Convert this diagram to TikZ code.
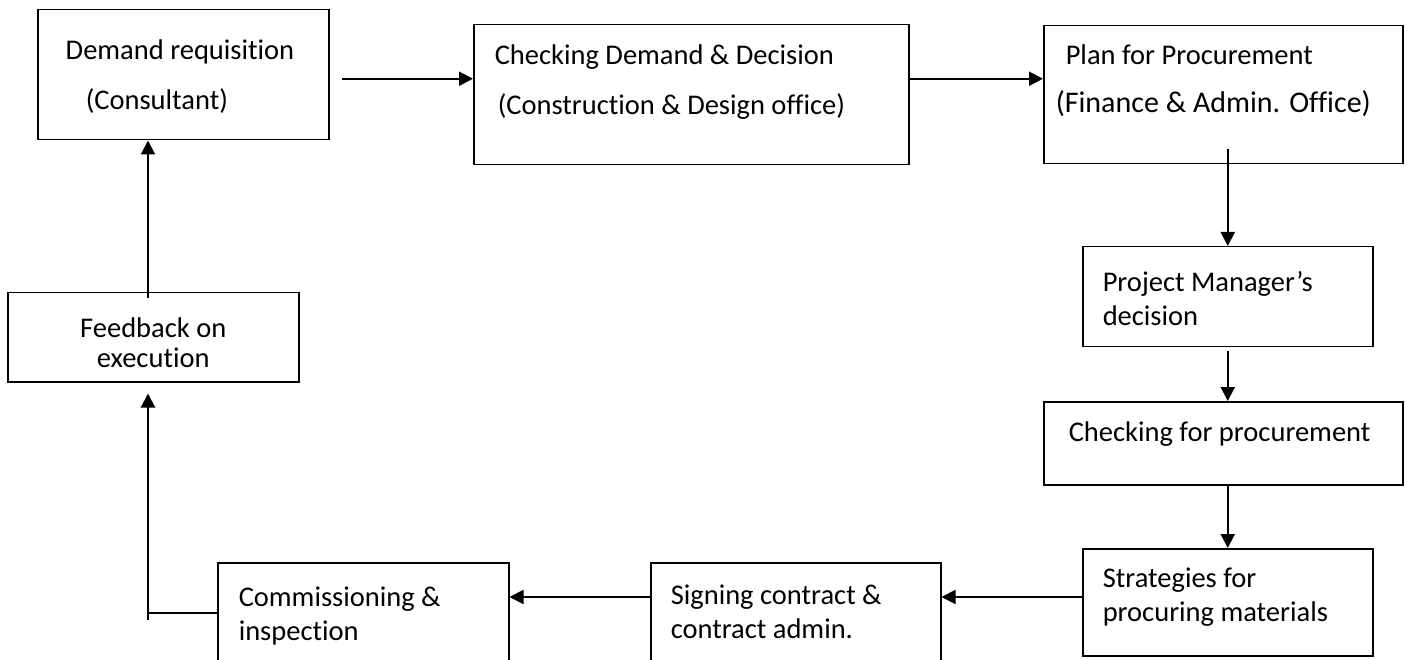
\documentclass[tikz,border=0pt]{standalone}
\usepackage{fontspec}
\setmainfont{Carlito}[Ligatures={TeX,NoCommon}]
\usetikzlibrary{calc}
\usetikzlibrary{arrows.meta}
% width, height, first baseline, text
\newcommand{\stagetext}[4]{\parbox[c][#2pt][t]{#1pt}{\raggedright\baselineskip=34pt\rule{0pt}{#3pt}#4}}

\begin{document}
\begin{tikzpicture}[x=1pt,y=-1pt,font=\fontsize{28.5}{34}\selectfont,>={Triangle[length=14pt,width=14pt]},stage/.style={draw, line width=1.5pt, inner sep=0pt, anchor=north west},link/.style={line width=2pt}]
\useasboundingbox (0,0) rectangle (1406,660);
\node[stage] (dem) at (37,9) {\stagetext{291}{130}{50}{\hspace*{28pt}Demand requisition\\[16pt]\hspace*{48pt}(Consultant)}};
\node[stage] (chk) at (473,24) {\stagetext{435}{140}{40}{\hspace*{21pt}Checking Demand \& Decision\\[16pt]\hspace*{24pt}(Construction \& Design office)}};
\node[stage] (plan) at (1043,25) {\stagetext{359}{138}{39}{\hspace*{22pt}Plan for Procurement\\[14pt]\hspace*{12pt}{\fontsize{30}{34}\selectfont(Finance \& Admin. Office)}}};
\node[stage] (pm) at (1082,246) {\stagetext{290}{100}{45}{\hspace*{20pt}Project Manager’s\\\hspace*{20pt}decision}};
\node[stage] (chkp) at (1043,401) {\stagetext{359}{83}{40}{\hspace*{25pt}Checking for procurement}};
\node[stage] (strat) at (1082,548) {\stagetext{290}{107}{39}{\hspace*{20pt}Strategies for\\\hspace*{20pt}procuring materials}};
\node[stage] (sign) at (650,562) {\stagetext{290}{120}{42}{\hspace*{20pt}Signing contract \&\\\hspace*{20pt}contract admin.}};
\node[stage] (comm) at (217,562) {\stagetext{291}{120}{44}{\hspace*{21pt}Commissioning \&\\\hspace*{21pt}inspection}};
\node[stage] (feed) at (7,292) {\stagetext{291}{89}{45}{\centering\baselineskip=30pt Feedback on\\execution}};
\coordinate (bend) at (148,620);
\path[->,link]
    ($(dem.east)+(12,4)$) edge ($(dem.east -| chk.west)+(0,4)$)
    ($(chk.east)+(0,-16)$) edge ($(chk.east -| plan.west)+(0,-16)$)
    ($(pm.north |- plan.south)+(0,-15)$) edge (pm.north)
    ($(pm.south)+(0,4)$) edge (pm.south |- chkp.north)
    (chkp.south -| strat.north) edge (strat.north)
    ($(strat.north west)+(0,49)$) edge ($(strat.north west -| sign.east)+(0,49)$)
    ($(sign.north west)+(0,35)$) edge ($(sign.north west -| comm.east)+(0,35)$)
    (bend) edge ($(feed.south -| bend)+(0,11)$)
    ($(feed.north -| bend)+(0,6)$) edge (dem.south -| bend)
;
\draw[link] ($(comm.north west)+(0,51)$) -- ($(comm.north west -| bend)+(0,51)$);
\end{tikzpicture}
\end{document}
